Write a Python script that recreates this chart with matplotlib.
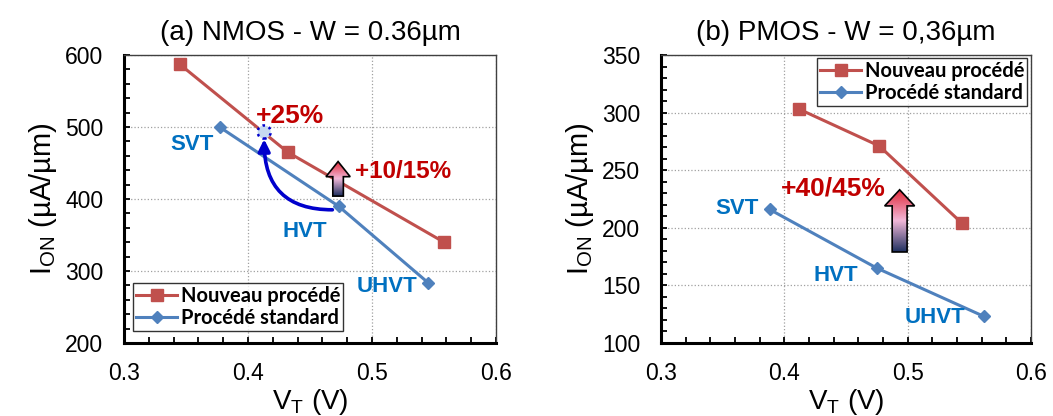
import numpy as np
import matplotlib
matplotlib.use("Agg")
import matplotlib.pyplot as plt
from matplotlib.patches import Polygon
from matplotlib.colors import LinearSegmentedColormap
from matplotlib.ticker import MultipleLocator

plt.rcParams['font.family'] = ['Liberation Sans', 'DejaVu Sans']

# (a) NMOS
n_vt_new = [0.345, 0.432, 0.558]
n_ion_new = [587, 465, 340]
n_vt_std = [0.377, 0.473, 0.545]
n_ion_std = [500, 390, 284]
n_target = (0.413, 493)

# (b) PMOS
p_vt_new = [0.412, 0.477, 0.544]
p_ion_new = [303, 271, 204]
p_vt_std = [0.388, 0.475, 0.562]
p_ion_std = [216, 165, 123]

labels = ["SVT", "HVT", "UHVT"]

RED = '#C0504D'
BLUE = '#4F81BD'
LBL = '#0070C0'
DRED = '#C00000'

fig = plt.figure(figsize=(10.53, 4.16), dpi=100)
ax1 = fig.add_axes([0.1178, 0.1755, 0.3533, 0.6923])
ax2 = fig.add_axes([0.6277, 0.1755, 0.3514, 0.6923])

cmap = LinearSegmentedColormap.from_list('arr', ['#1F3060', '#F2B8D8', '#E02838'])


def grad_arrow(ax, xc, y0, y1, bw, hw, hh):
    # fleche verticale avec degrade, clipee sur un polygone
    pts = [(xc - bw / 2, y0), (xc + bw / 2, y0), (xc + bw / 2, y1 - hh),
           (xc + hw / 2, y1 - hh), (xc, y1), (xc - hw / 2, y1 - hh),
           (xc - bw / 2, y1 - hh)]
    poly = Polygon(pts, closed=True, facecolor='none', edgecolor='black', lw=1.2, zorder=6)
    ax.add_patch(poly)
    g = np.linspace(0, 1, 100).reshape(-1, 1)
    im = ax.imshow(g, cmap=cmap, origin='lower', aspect='auto',
                   extent=[xc - hw / 2, xc + hw / 2, y0, y1], zorder=5)
    im.set_clip_path(poly)


def style(ax, ymin, ymax, ymaj, ymin_step):
    ax.set_xlim(0.3, 0.6)
    ax.set_ylim(ymin, ymax)
    ax.xaxis.set_major_locator(MultipleLocator(0.1))
    ax.xaxis.set_minor_locator(MultipleLocator(0.02))
    ax.yaxis.set_major_locator(MultipleLocator(ymaj))
    ax.yaxis.set_minor_locator(MultipleLocator(ymin_step))
    ax.grid(which='major', linestyle=':', linewidth=0.9, color='#A0A0A0')
    ax.tick_params(which='both', direction='in', length=4, width=1.3, labelsize=16.5,
                   top=False, right=False)
    ax.tick_params(axis='x', pad=14)
    ax.tick_params(axis='y', pad=15)
    for s in ['left', 'bottom']:
        ax.spines[s].set_linewidth(2.2)
        ax.spines[s].set_color('black')
    for s in ['top', 'right']:
        ax.spines[s].set_linewidth(1.0)
        ax.spines[s].set_color('#404040')
    ax.set_xlabel('V$_\\mathregular{T}$ (V)', fontsize=20, labelpad=1)
    ax.set_ylabel('I$_\\mathregular{ON}$ (µA/µm)', fontsize=21, labelpad=4)
    ax.set_axisbelow(True)


# ---- (a) NMOS
ax1.plot(n_vt_new, n_ion_new, color=RED, lw=2.2, marker='s', ms=8.5, label='Nouveau procédé', zorder=3)
ax1.plot(n_vt_std, n_ion_std, color=BLUE, lw=2.2, marker='D', ms=6.5, label='Procédé standard', zorder=3)
ax1.scatter([n_target[0]], [n_target[1]], s=90, facecolor='#C6D9F1', edgecolor='#0000CC',
            linestyle=':', linewidths=1.8, zorder=7)
ax1.annotate('', xy=(n_target[0], n_target[1] - 10), xytext=(0.468, 385),
             arrowprops=dict(arrowstyle='-|>,head_width=0.35,head_length=0.7', color='#0000CC', lw=2.6,
                             connectionstyle='angle3,angleA=0,angleB=90', shrinkA=0, shrinkB=0),
             zorder=6)
grad_arrow(ax1, 0.4726, 404, 452, 0.0085, 0.0195, 21)
ax1.text(0.434, 515, '+25%', color=DRED, fontsize=19, fontweight='bold', ha='center', va='center')
ax1.text(0.486, 438, '+10/15%', color=DRED, fontsize=17.5, fontweight='bold', ha='left', va='center')
for (x, y), t in zip([(0.355, 475), (0.446, 355), (0.512, 278)], labels):
    ax1.text(x, y, t, color=LBL, fontsize=16, fontweight='bold', ha='center', va='center')
style(ax1, 200, 600, 100, 20)
ax1.set_title('(a) NMOS - W = 0.36µm', fontsize=20, pad=11)
leg1 = ax1.legend(loc='lower left', bbox_to_anchor=(0.025, 0.04), frameon=True, fancybox=False,
                  edgecolor='black', handlelength=2.0, handletextpad=0.2, borderpad=0.15,
                  labelspacing=0.1, borderaxespad=0,
                  prop={'family': 'Lato', 'weight': 'bold', 'size': 14.5})
leg1.get_frame().set_linewidth(1.0)

# ---- (b) PMOS
ax2.plot(p_vt_new, p_ion_new, color=RED, lw=2.2, marker='s', ms=8.5, label='Nouveau procédé', zorder=3)
ax2.plot(p_vt_std, p_ion_std, color=BLUE, lw=2.2, marker='D', ms=6.5, label='Procédé standard', zorder=3)
grad_arrow(ax2, 0.4935, 179, 233, 0.0121, 0.0243, 14)
ax2.text(0.440, 234, '+40/45%', color=DRED, fontsize=19, fontweight='bold', ha='center', va='center')
for (x, y), t in zip([(0.3618, 217), (0.442, 159), (0.522, 122)], labels):
    ax2.text(x, y, t, color=LBL, fontsize=16, fontweight='bold', ha='center', va='center')
style(ax2, 100, 350, 50, 10)
ax2.set_title('(b) PMOS - W = 0,36µm', fontsize=20, pad=11)
leg2 = ax2.legend(loc='upper right', bbox_to_anchor=(0.99, 0.99), frameon=True, fancybox=False,
                  edgecolor='black', handlelength=2.0, handletextpad=0.2, borderpad=0.15,
                  labelspacing=0.1, borderaxespad=0,
                  prop={'family': 'Lato', 'weight': 'bold', 'size': 14.5})
leg2.get_frame().set_linewidth(1.0)

fig.savefig('out.png', dpi=100)
